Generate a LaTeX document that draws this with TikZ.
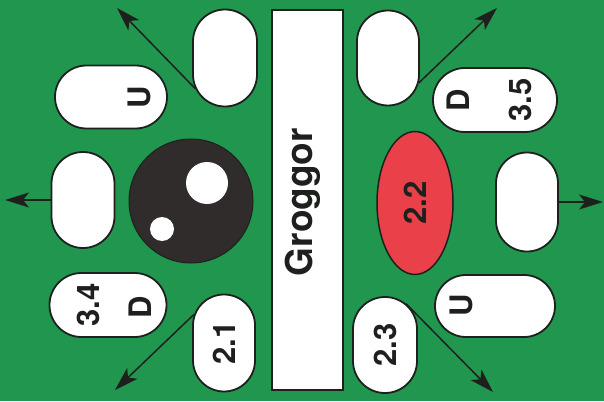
\documentclass[tikz,border=0pt]{standalone}
\usepackage{fontspec}
\setmainfont{TeX Gyre Heros}
\usetikzlibrary{shapes.misc,shapes.geometric,arrows.meta}
\definecolor{bggreen}{RGB}{33,150,78}
\definecolor{redfill}{RGB}{233,64,74}
\definecolor{inkdark}{RGB}{30,32,30}
\definecolor{disc}{RGB}{48,44,44}
\tikzset{
  pad/.style={rounded rectangle, draw=inkdark, line width=1.8pt, fill=white, inner sep=0pt,
              font=\fontsize{31}{31}\selectfont\bfseries, text=inkdark},
  vpad/.style={pad, rotate=90},
  lbl/.style={rotate=90, inner sep=0pt, font=\fontsize{31}{31}\selectfont\bfseries, text=inkdark},
  arr/.style={draw=inkdark, line width=1.5pt, -{Stealth[length=24pt,width=15pt,inset=6pt]}},
}
\begin{document}
\begin{tikzpicture}[x=1pt,y=-1pt]
\fill[bggreen] (0,0) rectangle (604,401);
\useasboundingbox (0,0) rectangle (604,401);
% central bar
\node[draw=inkdark, line width=1.8pt, fill=white, minimum width=71pt, minimum height=380pt, inner sep=0pt] (bar) at (307.5,200) {};
\node[rotate=90, inner sep=0pt, font=\fontsize{37}{37}\selectfont\bfseries, text=inkdark] (grog) at (303,202) {Groggor};
% black disc
\node[circle, fill=disc, draw=inkdark, line width=1pt, minimum size=124pt, inner sep=0pt] (disk) at (191,201) {};
\node[circle, fill=white, minimum size=42pt, inner sep=0pt] (dotbig) at (207,183) {};
\node[circle, fill=white, minimum size=24pt, inner sep=0pt] (dotsmall) at (162,229) {};
% red ellipse
\node[ellipse, rotate=90, fill=redfill, draw=inkdark, line width=1.5pt, minimum width=143pt, minimum height=76pt, inner sep=0pt,
      font=\fontsize{31}{31}\selectfont\bfseries, text=inkdark] (red) at (415,203) {2.2};
% vertical pads
\node[vpad, minimum width=97pt, minimum height=64pt] (tl) at (225,58) {};
\node[vpad, minimum width=96pt, minimum height=63pt] (lm) at (83,200) {};
\node[vpad, minimum width=97pt, minimum height=62pt] (bl) at (224,343) {2.1};
\node[vpad, minimum width=95pt, minimum height=62pt] (tr) at (388,58) {};
\node[vpad, minimum width=99pt, minimum height=62pt] (rm) at (527,202) {};
\node[vpad, minimum width=96pt, minimum height=64pt] (br) at (385,345) {2.3};
% horizontal pads
\node[pad, minimum width=112pt, minimum height=63pt] (hu1) at (111,97) {};
\node[lbl] (hu1t) at (139,97) {U};
\node[pad, minimum width=117pt, minimum height=64pt] (hd1) at (108,305) {};
\node[lbl] (hd1a) at (88,305) {3.4};
\node[lbl] (hd1b) at (140,307) {D};
\node[pad, minimum width=124pt, minimum height=64pt] (hd2) at (495,100) {};
\node[lbl] (hd2a) at (458,100) {D};
\node[lbl] (hd2b) at (520,100) {3.5};
\node[pad, minimum width=120pt, minimum height=62pt] (hu2) at (495,306) {};
\node[lbl] (hu2t) at (461,305) {U};
% arrow tips
\coordinate (ttl) at (117,8);
\coordinate (ttr) at (497,8);
\coordinate (tbl) at (115,390);
\coordinate (tbr) at (493,392);
\coordinate (tlm) at (5,200);
\coordinate (trm) at (603,202);
% arrows
\draw[arr] (tl.136) -- (ttl);
\draw[arr] (tr.231) -- (ttr);
\draw[arr] (bl.46) -- (tbl);
\draw[arr] (br.333) -- (tbr);
\draw[arr] (lm.90) -- (tlm);
\draw[arr] (rm.270) -- (trm);
\end{tikzpicture}
\end{document}
